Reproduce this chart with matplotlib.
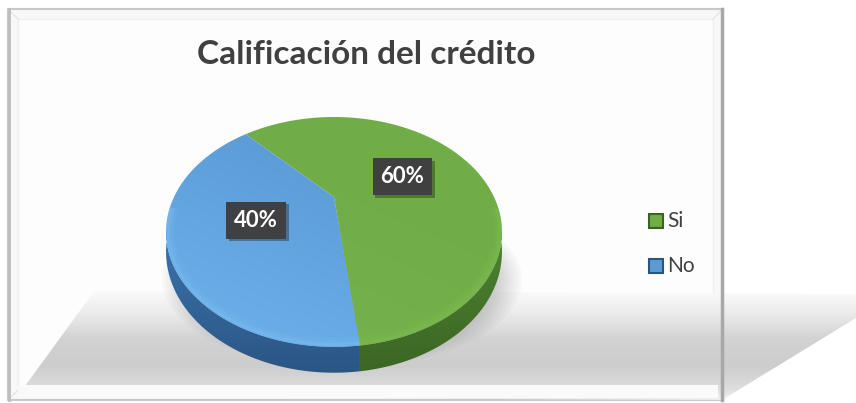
import numpy as np
import matplotlib.pyplot as plt
from matplotlib.patches import Polygon, Rectangle, Ellipse
from matplotlib.colors import to_rgb
import matplotlib.patheffects as pe

# datos
labels = ['Si', 'No']
values = [60, 40]
top_colors = ['#70AD47', '#5B9BD5']
light_colors = ['#76B34C', '#6CB0EA']
side_colors = [('#4E8430', '#3A6423'), ('#3C74AE', '#2A5482')]
rim_colors = ['#80C054', '#7EC0F6']
title = 'Calificación del crédito'

W, HP = 856, 403
plt.rcParams['font.family'] = ['Lato', 'DejaVu Sans']
fig = plt.figure(figsize=(W / 100, HP / 100), dpi=100)
ax = fig.add_axes([0, 0, 1, 1])

# parametros de la perspectiva (pixeles)
cx, cy = 334, 197
R, H, k, depth = 160, 104.3, 0.304, 18
start = 132.5


def proj(theta_deg, r=1.0, dz=0.0):
    t = np.radians(theta_deg)
    s = r * np.sin(t)
    c = r * np.cos(t)
    w = 1 + k * s
    return cx + R * c / w, cy - H * s / w + dz / w


def add_clip(pts, z):
    p = Polygon(pts, closed=True, fc='none', ec='none', zorder=z)
    ax.add_patch(p)
    return p


def grad_img(x0, x1, y0, y1, func, clip, z):
    xs = np.linspace(x0, x1, 300)
    ys = np.linspace(y0, y1, 200)
    X, Y = np.meshgrid(xs, ys)
    img = func(X, Y)
    im = ax.imshow(img, extent=(x0, x1, y0, y1), origin='lower', aspect='auto',
                   zorder=z, interpolation='bilinear')
    im.set_clip_path(clip)


def vstops(stops):
    p = [s[0] for s in stops]
    cols = np.array([to_rgb(s[1]) for s in stops])

    def f(X, Y):
        t = (Y - Y.min()) / (Y.max() - Y.min())
        return np.stack([np.interp(t, p, cols[:, i]) for i in range(3)], axis=-1)
    return f


# marco
ax.add_patch(Rectangle((8, 9), 715, 391, fc='#f8f8f8', ec='#c8c8c8', lw=1.5, zorder=1))
ax.add_patch(Rectangle((18, 19), 695, 371, fc='#fdfdfd', ec='#efefef', lw=1.0, zorder=1.1))
for (a, b) in [((8, 9), (18, 19)), ((723, 9), (713, 19)), ((8, 400), (18, 390)), ((723, 400), (713, 390))]:
    ax.plot([a[0], b[0]], [a[1], b[1]], color='#e2e2e2', lw=0.8, zorder=1.2)
ax.plot([722, 722], [9, 400], color='#a8a8a8', lw=2.5, zorder=6)
ax.plot([9, 9], [9, 400], color='#bdbdbd', lw=2, zorder=6)

# suelo / reflejo
floor = add_clip([(17, 397), (95, 290), (856, 294), (856, 318), (722, 400)], 1.5)
grad_img(0, 856, 290, 400,
         vstops([(0, '#fbfbfb'), (0.2, '#ececec'), (0.45, '#d2d2d2'), (0.7, '#cdcdcd'), (0.9, '#dedede'), (1, '#f0f0f0')]),
         floor, 1.5)
ax.add_patch(Rectangle((18, 385), 700, 13, fc='#fafafa', ec='none', zorder=1.6))

# sombra del pastel
for i in range(14):
    ax.add_patch(Ellipse((342, 280), 360 - i * 7, 175 - i * 6, fc='#000000', ec='none',
                         alpha=0.025, zorder=2))

fracs = np.array(values) / sum(values)
bounds = start - np.concatenate([[0], np.cumsum(fracs) * 360])

# lados
for i in range(len(values)):
    a0, a1 = bounds[i], bounds[i + 1]
    th = np.linspace(a0, a1, 200)
    th = th[np.sin(np.radians(th)) < 0.05]
    if len(th) < 2:
        continue
    top = [proj(t) for t in th]
    bot = [proj(t, dz=depth) for t in th[::-1]]
    clip = add_clip(top + bot, 3)
    grad_img(150, 520, 230, 380, vstops([(0, side_colors[i][0]), (1, side_colors[i][1])]), clip, 3)

# caras superiores
for i in range(len(values)):
    a0, a1 = bounds[i], bounds[i + 1]
    th = np.linspace(a0, a1, 300)
    pts = [proj(0, r=0)] + [proj(t) for t in th]
    clip = add_clip(pts, 4)
    base = np.array(to_rgb(top_colors[i]))
    lite = np.array(to_rgb(light_colors[i]))

    def f(X, Y, base=base, lite=lite):
        t = np.clip((Y - 150) / 200 * 0.8 + (cx - X) / 170 * 0.3, 0, 1)[..., None]
        return base * (1 - t) + lite * t
    grad_img(150, 520, 110, 360, f, clip, 4)
    # borde biselado suave
    thr = th[np.sin(np.radians(th)) < -0.1]
    if len(thr) > 1:
        for lw, al, rr in [(6, 0.12, 0.975), (4, 0.18, 0.982), (2.5, 0.3, 0.99)]:
            rx, ry = zip(*[proj(t, r=rr) for t in thr])
            ax.plot(rx, ry, color=rim_colors[i], lw=lw, alpha=al, zorder=4.5, solid_capstyle='butt')

# etiquetas de datos
for i in range(len(values)):
    mid = (bounds[i] + bounds[i + 1]) / 2
    x, y = proj(mid, r=0.5)
    t = ax.text(x, y, f'{values[i]}%', ha='center', va='center', fontsize=16,
                fontweight='bold', color='white', zorder=7,
                bbox=dict(boxstyle='square,pad=0.36', fc='#404040', ec='none'))
    t.get_bbox_patch().set_path_effects([pe.withSimplePatchShadow(offset=(2, -2), alpha=0.35), pe.Normal()])

# titulo
ax.text(366, 54, title, ha='center', va='center', fontsize=24, fontweight='bold',
        color='#404040', zorder=7)

# leyenda
for i, lab in enumerate(labels):
    ly = 221 + i * 45
    ax.add_patch(Rectangle((649, ly - 7), 14, 14, fc=top_colors[i], ec=side_colors[i][1],
                           lw=1.5, zorder=6))
    ax.text(667, ly, lab, ha='left', va='center', fontsize=15, color='#404040', zorder=6)

ax.set_xlim(0, W)
ax.set_ylim(HP, 0)
ax.axis('off')
fig.savefig('out.png', dpi=100, facecolor='white')
